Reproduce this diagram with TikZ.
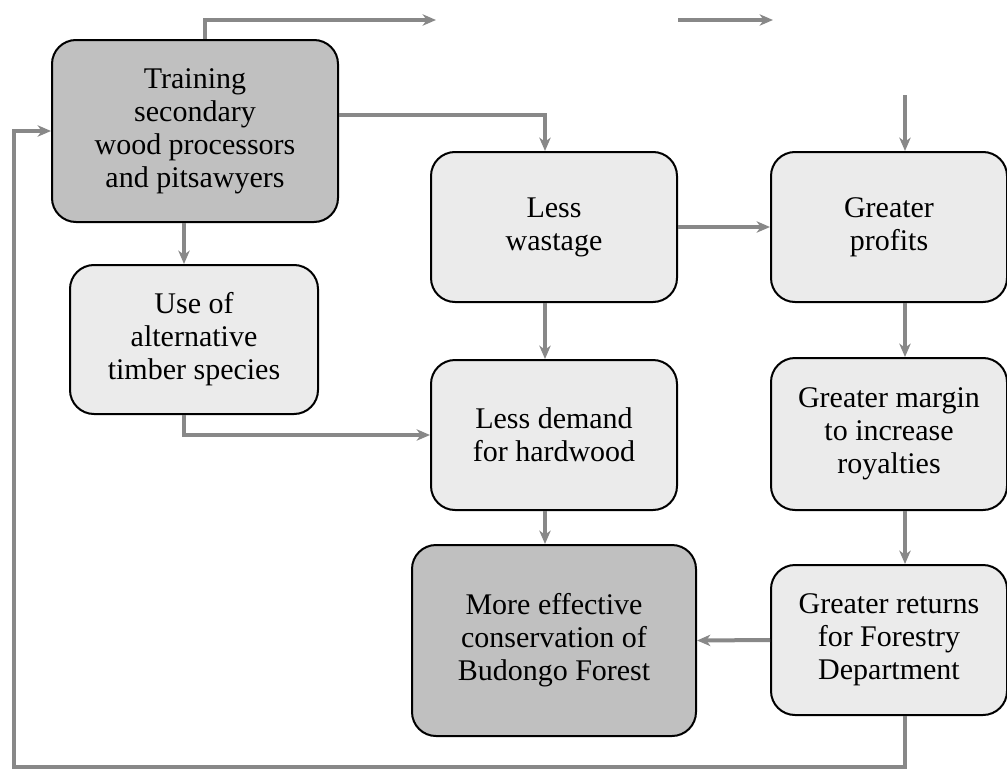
\documentclass[tikz,border=0pt]{standalone}
\usepackage{fontspec}
\setmainfont{Liberation Serif}
\usetikzlibrary{arrows.meta}
\definecolor{boxdark}{HTML}{C0C0C0}
\definecolor{boxlight}{HTML}{EBEBEB}
\definecolor{flowgrey}{HTML}{888888}

\begin{document}
\begin{tikzpicture}[x=0.75pt,y=-0.75pt,
	box/.style={draw=black, line width=1.5pt, rounded corners=18pt, align=center,
		font=\fontsize{22.5}{24.75}\selectfont, inner sep=0pt},
	darkbox/.style={box, fill=boxdark},
	lightbox/.style={box, fill=boxlight},
	flow/.style={draw=flowgrey, line width=3pt, -{Stealth[length=10pt,width=8.5pt,inset=3pt]}}]
	%%%%% START %%%%%
	
	\useasboundingbox (0,0) rectangle (1007,771);
	
	% boxes
	\node[darkbox, minimum width=214.5pt, minimum height=136.5pt] (train) at (195,131)
		{Training\\secondary\\wood processors\\and pitsawyers};
	\node[lightbox, minimum width=186pt, minimum height=111.75pt] (altsp) at (194,339.5)
		{Use of\\alternative\\timber species};
	\node[lightbox, minimum width=184.5pt, minimum height=112.5pt] (wastage) at (554,227)
		{Less\\wastage};
	\node[lightbox, minimum width=177pt, minimum height=112.5pt] (profits) at (889,227)
		{Greater\\profits};
	\node[lightbox, minimum width=184.5pt, minimum height=112.5pt] (demand) at (554,435)
		{Less demand\\for hardwood};
	\node[lightbox, minimum width=177pt, minimum height=114pt] (margin) at (889,434)
		{Greater margin\\to increase\\royalties};
	\node[darkbox, minimum width=213pt, minimum height=143.25pt] (conserve) at (554,640.5)
		{More effective\\conservation of\\Budongo Forest};
	\node[lightbox, minimum width=177pt, minimum height=112.5pt] (returns) at (889,640)
		{Greater returns\\for Forestry\\Department};
	
	% free ends and columns
	\coordinate (topturn) at (205,20);
	\coordinate (topend) at (436,20);
	\coordinate (stubstart) at (678,20);
	\coordinate (stubend) at (773,20);
	\coordinate (profin) at (905,95);
	\coordinate (loopcorner) at (14,767);
	\coordinate (leftcol) at (184,0);
	\coordinate (midcol) at (545,0);
	
	% connectors
	\draw[flow] (train.north -| topturn) -- (topturn) -- (topend);
	\draw[flow] (stubstart) -- (stubend);
	\draw[flow] (profin) -- (profin |- profits.north);
	\draw[flow] ([yshift=12pt]train.east) -| (wastage.north -| midcol);
	\draw[flow] (train.south -| leftcol) -- (altsp.north -| leftcol);
	\draw[flow] (altsp.south -| leftcol) |- (demand.west);
	\draw[flow] (wastage.east) -- (profits.west);
	\draw[flow] (wastage.south -| midcol) -- (demand.north -| midcol);
	\draw[flow] (demand.south -| midcol) -- (conserve.north -| midcol);
	\draw[flow] (profits.south -| profin) -- (margin.north -| profin);
	\draw[flow] (margin.south -| profin) -- (returns.north -| profin);
	\draw[flow] (returns.west) -- (conserve.east);
	\draw[flow] (returns.south -| profin) |- (loopcorner) |- (train.west);
	
	%%%%% END %%%%%
\end{tikzpicture}
\end{document}
